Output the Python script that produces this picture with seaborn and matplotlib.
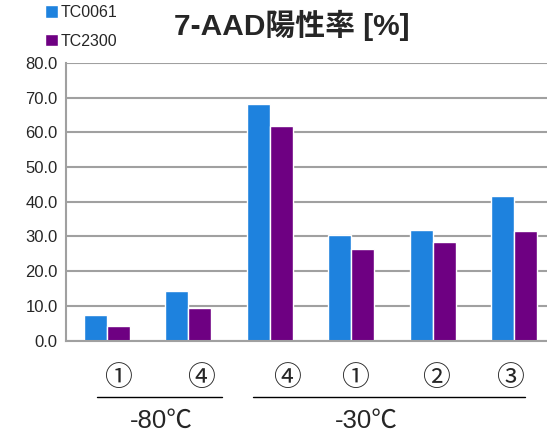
import pandas as pd
import seaborn as sns
from matplotlib import pyplot as plt

# chart data
conditions = ['-80_1', '-80_4', '-30_4', '-30_1', '-30_2', '-30_3']
tick_labels = ['①', '④', '④', '①', '②', '③']
tick_pos = [0.14, 1.15, 2.21, 3.05, 4.04, 4.95]  # labels sit a bit off the bar centres in the original
tc0061 = [7.3, 14.2, 68.3, 30.5, 32.0, 41.7]
tc2300 = [4.3, 9.4, 61.8, 26.4, 28.4, 31.6]
series_names = ['TC0061', 'TC2300']
group_labels = ['-80℃', '-30℃']

df = pd.DataFrame({
    'cond': conditions * 2,
    'value': tc0061 + tc2300,
    'series': [series_names[0]] * 6 + [series_names[1]] * 6,
})

sns.set_style('white')
plt.rcParams['font.family'] = ['Liberation Sans', 'Noto Sans CJK JP', 'DejaVu Sans']

fig = plt.figure(figsize=(5.47, 4.36), dpi=100)
ax = fig.add_axes([66 / 547, 95.5 / 436, 489 / 547, 277.5 / 436])

sns.barplot(data=df, x='cond', y='value', hue='series', order=conditions,
            palette=['#1e82de', '#6e0082'], width=0.57, saturation=1,
            errorbar=None, ax=ax)

ax.set_ylim(0, 80)
ax.set_yticks(range(0, 81, 10))
ax.set_yticklabels([f'{v:.1f}' for v in range(0, 81, 10)], fontsize=12)
ax.set_xticks(tick_pos)
ax.set_xticklabels(tick_labels, fontsize=20, family=['Noto Sans CJK JP'])
ax.tick_params(axis='both', length=0)
ax.tick_params(axis='x', pad=16)
ax.tick_params(axis='y', pad=6)
ax.set_xlabel('')
ax.set_ylabel('')
ax.set_xlim(-0.5, 5.5)

ax.yaxis.grid(True, color='#a0a0a0', linewidth=1.5)
ax.set_axisbelow(True)
for side in ['top', 'right']:
    ax.spines[side].set_visible(False)
for side in ['left', 'bottom']:
    ax.spines[side].set_color('#a0a0a0')
    ax.spines[side].set_linewidth(1.5)

# group brackets under the tick labels
tr = ax.get_xaxis_transform()
ax.plot([-0.12, 1.42], [-0.204, -0.204], color='black', lw=1, transform=tr, clip_on=False)
ax.plot([1.79, 5.13], [-0.204, -0.204], color='black', lw=1, transform=tr, clip_on=False)
ax.text(0.67, -0.29, group_labels[0], transform=tr, ha='center', va='center',
        fontsize=18.5, family=['Liberation Sans', 'Noto Sans CJK JP'])
ax.text(3.18, -0.29, group_labels[1], transform=tr, ha='center', va='center',
        fontsize=18.5, family=['Liberation Sans', 'Noto Sans CJK JP'])

fig.text(292 / 547, 1 - 25 / 436, '7-AAD陽性率 [%]', ha='center', va='center',
         fontsize=21.5, fontweight='bold', family=['Liberation Sans', 'Noto Sans CJK JP'])

leg = ax.legend(loc='upper left', bbox_to_anchor=(45 / 547, 1 - 5 / 436),
                bbox_transform=fig.transFigure, frameon=False, fontsize=11.5,
                handlelength=0.8, handleheight=0.8, handletextpad=0.15,
                labelspacing=0.85, borderpad=0, borderaxespad=0)

fig.savefig('out.png', dpi=100)
